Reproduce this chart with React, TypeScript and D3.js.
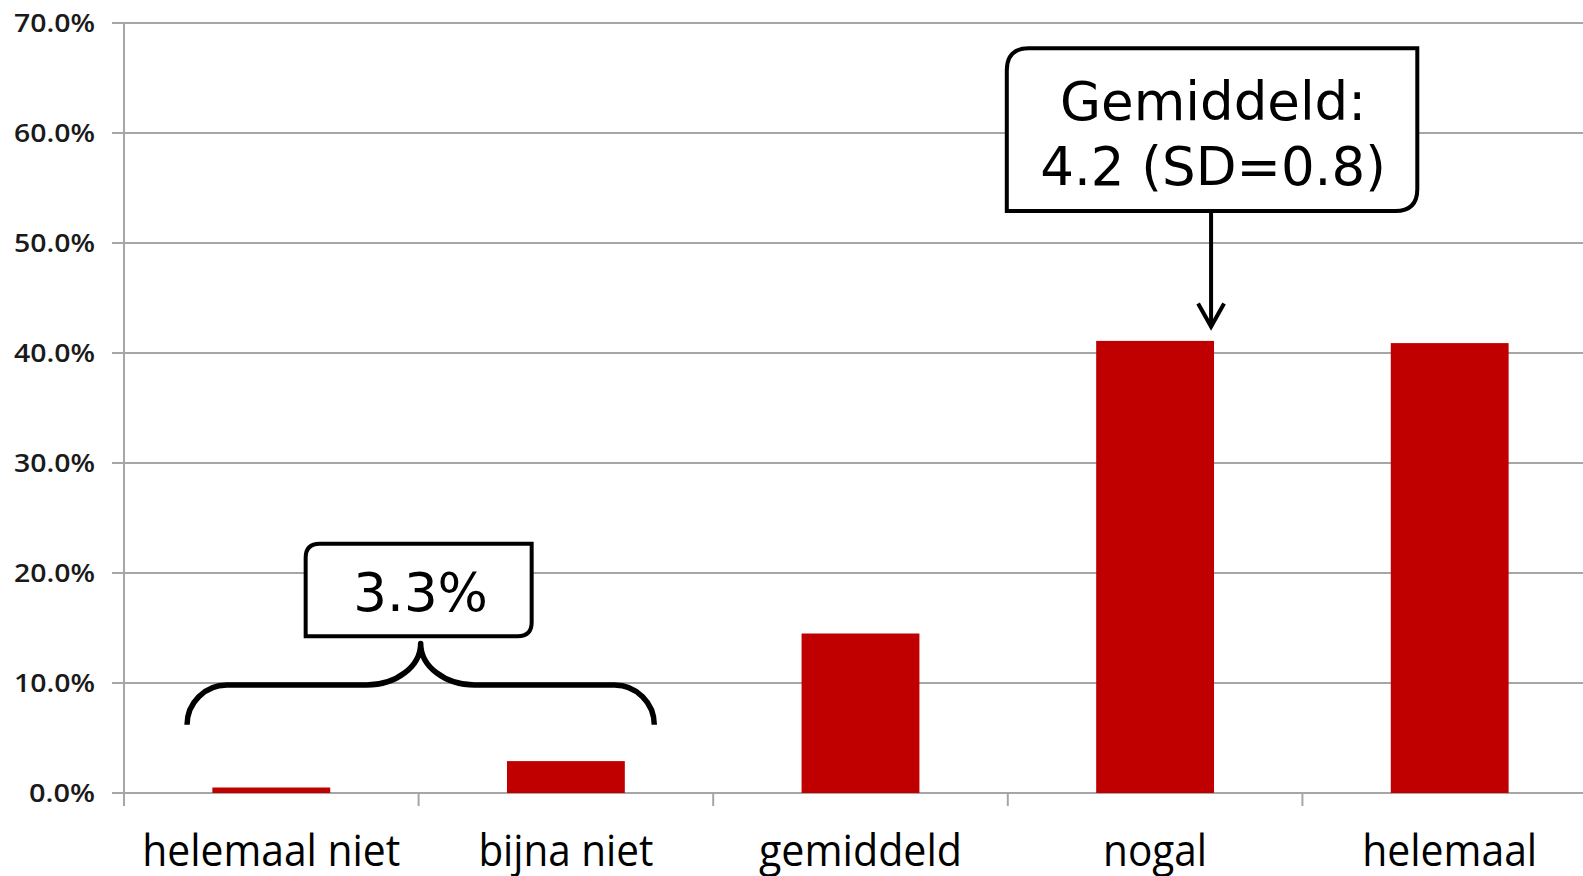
import React from "react";
import * as d3 from "d3";

const categories = ["helemaal niet", "bijna niet", "gemiddeld", "nogal", "helemaal"];
const shares = [0.005, 0.029, 0.145, 0.411, 0.409];
const yTicks = [0, 0.1, 0.2, 0.3, 0.4, 0.5, 0.6, 0.7];
const labelWidths = [258, 175, 203, 104, 175];
const meanLines = ["Gemiddeld:", "4.2 (SD=0.8)"];
const lowLabel = "3.3%";

const W = 1583;
const H = 876;

export default function App() {
  const x = d3.scaleBand<string>().domain(categories).range([124, 124 + 5 * 294.6]).padding(0);
  const y = d3.scaleLinear().domain([0, 0.7]).range([793, 23]);
  const bw = x.bandwidth();
  const barW = bw * 0.4;
  const fmt = d3.format(".1%");
  const grid = "#a6a6a6";

  // brace geometry (data coordinates)
  const bL = (x(categories[0]) as number) + 0.214 * bw;
  const bR = (x(categories[1]) as number) + 0.8 * bw;
  const bMid = (bL + bR) / 2;
  const yH = y(0.1) + 2;
  const yEnd = y(0.062);
  const yTip = y(0.136);
  const r = yEnd - yH;
  const rt = yH - yTip;
  const k = 0.55;
  const brace = [
    `M ${bL} ${yEnd}`,
    `C ${bL} ${yEnd - r * k}, ${bL + r - r * k} ${yH}, ${bL + r} ${yH}`,
    `L ${bMid - rt * 1.3} ${yH}`,
    `C ${bMid - rt * 1.3 + rt * 1.3 * k} ${yH}, ${bMid} ${yTip + rt * k}, ${bMid} ${yTip}`,
    `C ${bMid} ${yTip + rt * k}, ${bMid + rt * 1.3 - rt * 1.3 * k} ${yH}, ${bMid + rt * 1.3} ${yH}`,
    `L ${bR - r} ${yH}`,
    `C ${bR - r + r * k} ${yH}, ${bR} ${yEnd - r * k}, ${bR} ${yEnd}`,
  ].join(" ");

  // box with rounded top-left and bottom-right corners
  const box = (x0: number, y0: number, x1: number, y1: number, rr: number) =>
    `M ${x0} ${y0 + rr} Q ${x0} ${y0} ${x0 + rr} ${y0} L ${x1} ${y0} L ${x1} ${y1 - rr} Q ${x1} ${y1} ${x1 - rr} ${y1} L ${x0} ${y1} Z`;

  const lbX0 = bMid - 115;
  const lbX1 = bMid + 111;
  const lbY0 = y(0.2265);
  const lbY1 = y(0.1425);

  const nx = x(categories[3]) as number;
  const mX0 = nx - 1;
  const mX1 = nx + 1.39 * bw;
  const mY0 = y(0.677);
  const mY1 = y(0.529);
  const arrowX = nx + 0.69 * bw;
  const arrowTip = y(0.424);

  return (
    <svg width={W} height={H} style={{ position: "absolute", left: 0, top: 0, background: "#fff" }}>
      {yTicks.map((t) => (
        <g key={t}>
          <line x1={112} x2={W} y1={y(t)} y2={y(t)} stroke={grid} strokeWidth={2} />
          <text
            x={95}
            y={y(t)}
            dy="0.36em"
            textAnchor="end"
            fontFamily="'Open Sans', 'DejaVu Sans', sans-serif"
            fontWeight={600}
            fontSize={25}
            fill="#1a1a1a"
            textLength={t === 0 ? 66 : 81}
            lengthAdjust="spacingAndGlyphs"
          >
            {fmt(t)}
          </text>
        </g>
      ))}
      <line x1={124} x2={124} y1={y(0.7)} y2={806} stroke={grid} strokeWidth={2} />
      {categories.map((c) => (
        <line key={"t" + c} x1={x(c) as number} x2={x(c) as number} y1={y(0)} y2={806} stroke={grid} strokeWidth={2} />
      ))}
      {categories.map((c, i) => (
        <rect
          key={"b" + c}
          x={(x(c) as number) + (bw - barW) / 2}
          y={y(shares[i])}
          width={barW}
          height={y(0) - y(shares[i])}
          fill="#c00000"
        />
      ))}
      {categories.map((c, i) => (
        <text
          key={"l" + c}
          x={(x(c) as number) + bw / 2}
          y={866}
          textAnchor="middle"
          fontFamily="'Liberation Sans Narrow', 'Open Sans', sans-serif"
          fontSize={44}
          fill="#000"
          textLength={labelWidths[i]}
          lengthAdjust="spacingAndGlyphs"
        >
          {c}
        </text>
      ))}

      {/* brace annotation */}
      <path d={brace} fill="none" stroke="#000" strokeWidth={5.5} strokeLinecap="butt" strokeLinejoin="round" />
      <path d={box(lbX0, lbY0, lbX1, lbY1, 14)} fill="#fff" stroke="#000" strokeWidth={4} />
      <text
        x={(lbX0 + lbX1) / 2 + 2}
        y={lbY1 - 25}
        textAnchor="middle"
        fontFamily="'DejaVu Sans', Verdana, sans-serif"
        fontSize={53}
        fill="#000"
      >
        {lowLabel}
      </text>

      {/* mean annotation */}
      <path d={box(mX0, mY0, mX1, mY1, 22)} fill="#fff" stroke="#000" strokeWidth={4} />
      {meanLines.map((s, i) => (
        <text
          key={s}
          x={(mX0 + mX1) / 2 + 1}
          y={120 + i * 65}
          textAnchor="middle"
          fontFamily="'DejaVu Sans', Verdana, sans-serif"
          fontSize={53}
          fill="#000"
        >
          {s}
        </text>
      ))}
      <line x1={arrowX} x2={arrowX} y1={mY1} y2={arrowTip - 2} stroke="#000" strokeWidth={4} />
      <path
        d={`M ${arrowX - 13} ${arrowTip - 23} L ${arrowX} ${arrowTip} L ${arrowX + 13} ${arrowTip - 23}`}
        fill="none"
        stroke="#000"
        strokeWidth={4}
      />
    </svg>
  );
}
